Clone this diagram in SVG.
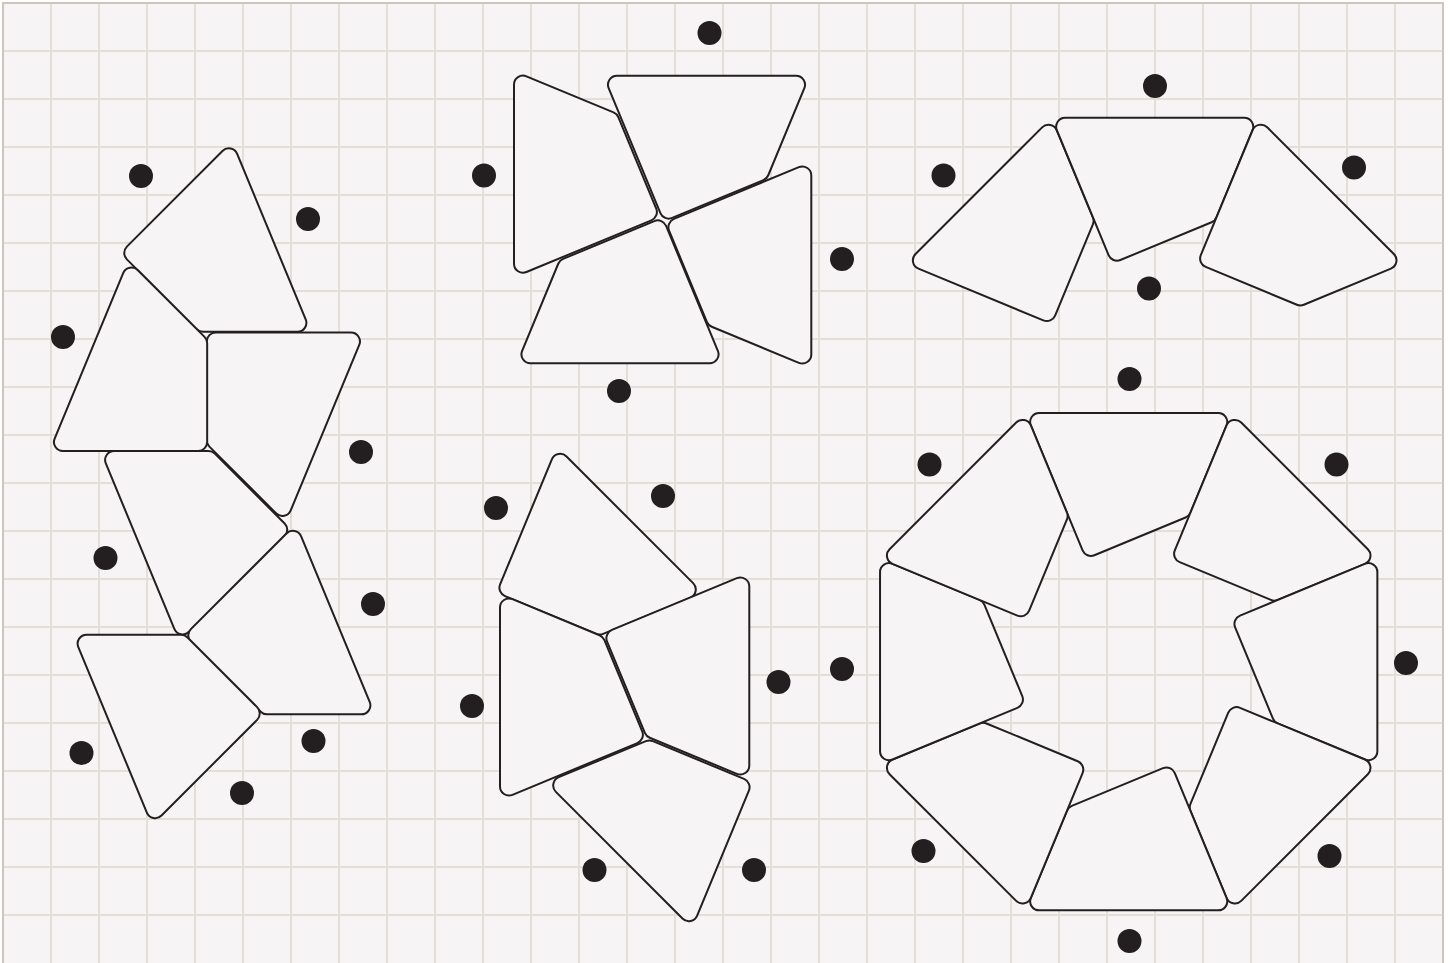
<svg xmlns="http://www.w3.org/2000/svg" xmlns:xlink="http://www.w3.org/1999/xlink" width="1451" height="963" viewBox="0 0 1451 963">
<style>
.bg{fill:#f6f4f4}
.grid{stroke:#e2dfd8;stroke-width:2;fill:none}
.border{stroke:#cbc6be;stroke-width:2;fill:none}
.s{fill:#f6f4f4;stroke:#231f20;stroke-width:2;stroke-linejoin:round}
.dot{fill:#231f20}
</style>
<defs>
<path id="p" d="M13.469,0 L192.531,0 A9,9 0 0 1 200.846,12.444 L164.763,99.556 A9,9 0 0 1 159.892,104.427 L68.651,142.220 A9,9 0 0 1 56.892,137.349 L5.154,12.444 A9,9 0 0 1 13.469,0 Z"/>
</defs>
<rect x="0" y="0" width="1451" height="963" fill="#ffffff"/>
<rect class="bg" x="3" y="3" width="1440" height="960"/>
<g id="grid">
<path class="grid" d="M51 3V963M99 3V963M147 3V963M195 3V963M243 3V963M291 3V963M339 3V963M387 3V963M435 3V963M483 3V963M531 3V963M579 3V963M627 3V963M675 3V963M723 3V963M771 3V963M819 3V963M867 3V963M915 3V963M963 3V963M1011 3V963M1059 3V963M1107 3V963M1155 3V963M1203 3V963M1251 3V963M1299 3V963M1347 3V963M1395 3V963M3 51H1443M3 99H1443M3 147H1443M3 195H1443M3 243H1443M3 291H1443M3 339H1443M3 387H1443M3 435H1443M3 483H1443M3 531H1443M3 579H1443M3 627H1443M3 675H1443M3 723H1443M3 771H1443M3 819H1443M3 867H1443M3 915H1443"/>
<path class="border" d="M3 963V3H1443V963"/>
</g>
<g id="group-left-column">
<use id="t1a" class="s" href="#p" transform="translate(232,141.5) rotate(67.5)"/>
<use id="t1b" class="s" href="#p" transform="translate(364.4,332.5) rotate(112.5)"/>
<use id="t1c" class="s" href="#p" transform="translate(49.5,451) rotate(-67.5)"/>
<use id="t1d" class="s" href="#p" transform="translate(179.5,641.3) rotate(-112.5)"/>
<use id="t1e" class="s" href="#p" transform="translate(296,524) rotate(67.5)"/>
<use id="t1f" class="s" href="#p" transform="translate(152,825) rotate(-112.5)"/>
<circle class="dot" cx="141" cy="176" r="12"/>
<circle class="dot" cx="308" cy="219" r="12"/>
<circle class="dot" cx="63" cy="337" r="12"/>
<circle class="dot" cx="361" cy="452" r="12"/>
<circle class="dot" cx="105.5" cy="558" r="12"/>
<circle class="dot" cx="373" cy="604" r="12"/>
<circle class="dot" cx="81.5" cy="753" r="12"/>
<circle class="dot" cx="313.5" cy="741" r="12"/>
<circle class="dot" cx="242" cy="793" r="12"/>
</g>
<g id="group-pinwheel">
<use id="t2a" class="s" href="#p" transform="translate(603.5,75.7) rotate(0)"/>
<use id="t2b" class="s" href="#p" transform="translate(811.3,162) rotate(90)"/>
<use id="t2c" class="s" href="#p" transform="translate(723,363.3) rotate(180)"/>
<use id="t2d" class="s" href="#p" transform="translate(514,277.2) rotate(-90)"/>
<circle class="dot" cx="709.5" cy="33" r="12"/>
<circle class="dot" cx="484" cy="175.5" r="12"/>
<circle class="dot" cx="842" cy="259" r="12"/>
<circle class="dot" cx="619" cy="391" r="12"/>
</g>
<g id="group-arc">
<use id="t3a" class="s" href="#p" transform="translate(906,263.5) rotate(-45)"/>
<use id="t3b" class="s" href="#p" transform="translate(1051.7,117.8) rotate(0)"/>
<use id="t3c" class="s" href="#p" transform="translate(1257.7,117.8) rotate(45)"/>
<circle class="dot" cx="1155" cy="86" r="12"/>
<circle class="dot" cx="943.5" cy="175.5" r="12"/>
<circle class="dot" cx="1354" cy="167.5" r="12"/>
<circle class="dot" cx="1149" cy="288.5" r="12"/>
</g>
<g id="group-middle">
<use id="t4a" class="s" href="#p" transform="translate(557,447) rotate(45)"/>
<use id="t4b" class="s" href="#p" transform="translate(500,800) rotate(-90)"/>
<use id="t4c" class="s" href="#p" transform="translate(749.3,573) rotate(90)"/>
<use id="t4d" class="s" href="#p" transform="translate(692,928) rotate(225)"/>
<circle class="dot" cx="496" cy="508" r="12"/>
<circle class="dot" cx="663" cy="496" r="12"/>
<circle class="dot" cx="472" cy="706" r="12"/>
<circle class="dot" cx="778.5" cy="682" r="12"/>
<circle class="dot" cx="594.5" cy="870" r="12"/>
<circle class="dot" cx="754" cy="870" r="12"/>
</g>
<g id="group-octagon">
<use id="t5a" class="s" href="#p" transform="translate(1025.7,413.04) rotate(0)"/>
<use id="t5b" class="s" href="#p" transform="translate(1231.7,413.04) rotate(45)"/>
<use id="t5c" class="s" href="#p" transform="translate(1377.36,558.7) rotate(90)"/>
<use id="t5d" class="s" href="#p" transform="translate(1377.36,764.7) rotate(135)"/>
<use id="t5e" class="s" href="#p" transform="translate(1231.7,910.36) rotate(180)"/>
<use id="t5f" class="s" href="#p" transform="translate(1025.7,910.36) rotate(225)"/>
<use id="t5g" class="s" href="#p" transform="translate(880.04,764.7) rotate(270)"/>
<use id="t5h" class="s" href="#p" transform="translate(880.04,558.7) rotate(315)"/>
<circle class="dot" cx="1129.5" cy="379" r="12"/>
<circle class="dot" cx="929.5" cy="464.5" r="12"/>
<circle class="dot" cx="1336.5" cy="464.5" r="12"/>
<circle class="dot" cx="842" cy="669" r="12"/>
<circle class="dot" cx="1406" cy="663" r="12"/>
<circle class="dot" cx="923.5" cy="851" r="12"/>
<circle class="dot" cx="1329.5" cy="856" r="12"/>
<circle class="dot" cx="1129.5" cy="941" r="12"/>
</g>
</svg>
